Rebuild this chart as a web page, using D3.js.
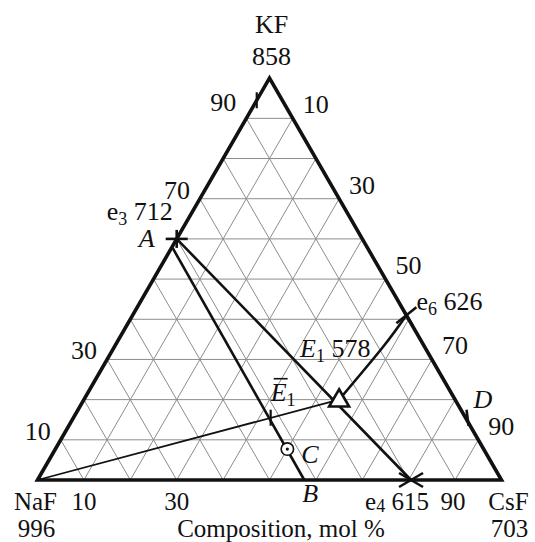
<!DOCTYPE html>
<html><head><meta charset="utf-8">
<script src="https://cdn.jsdelivr.net/npm/d3@7"></script>
<style>
html,body{margin:0;padding:0;background:#fff;}
text{font-family:"Liberation Serif","Times New Roman",serif;font-size:26px;fill:#111;}
.it{font-style:italic;}
.bt{font-size:25px;}
</style></head>
<body>
<svg id="chart" width="535" height="542"></svg>
<script>
// ---- data ----
const gridLevels = [0.1,0.2,0.3,0.4,0.5,0.6,0.7,0.8,0.9];
const leftLabels = [10,30,70,90];          // KF, % on NaF–KF side
const rightLabels = [10,30,50,70,90];      // CsF, % on KF–CsF side
const bottomLabels = [10,30,90];           // CsF, % on NaF–CsF side
const vertexNames = ["NaF","KF","CsF"];
const vertexTemps = [996,858,703];
// special points: mole fractions of KF and CsF
const pointNames = ["A","A2","e6","e4","B","E1","C","E1bar","D","mid","t90"];
const pointKF  = [0.60,0.58,0.41,0.0, 0.0,  0.20,0.077,0.155,0.155,0.331,0.945];
const pointCsF = [0.0, 0.0, 0.59,0.805,0.575,0.55,0.50, 0.425,0.845,0.579,0.0];
const e3Temp = 712, e6Temp = 626, e4Temp = 615, E1Temp = 578;

// ---- geometry ----
const svg = d3.select("#chart");
const L = 37.5, R = 501.5, BASE = 480;
const side = R - L, h = side*Math.sqrt(3)/2;
const xs = d3.scaleLinear().domain([0,1]).range([L,R]);
const ys = d3.scaleLinear().domain([0,1]).range([BASE, BASE-h]);
const P = (kf, csf) => [xs(csf + kf/2), ys(kf)];
const pt = {};
pointNames.forEach((n,i)=>{ pt[n] = P(pointKF[i], pointCsF[i]); });

const line = d3.line();

// grid
const g = svg.append("g");
gridLevels.forEach(v=>{
  g.append("path").attr("d", line([P(v,0), P(v,1-v)]));      // constant KF
  g.append("path").attr("d", line([P(0,v), P(1-v,v)]));      // constant CsF
  g.append("path").attr("d", line([P(0,1-v), P(1-v,0)]));    // constant NaF
});
g.selectAll("path").attr("stroke","#8c8c8c").attr("stroke-width",1).attr("fill","none");

// composition lines
const lines = svg.append("g").attr("fill","none").attr("stroke","#111");
lines.append("path").attr("d", line([P(0,0), pt.E1])).attr("stroke-width",1.8);
lines.append("path").attr("d", line([pt.A, pt.e4])).attr("stroke-width",2.6);
lines.append("path").attr("d", line([pt.A2, pt.B])).attr("stroke-width",2.6);
lines.append("path").attr("d", d3.line().curve(d3.curveNatural)([pt.e6, pt.mid, pt.E1])).attr("stroke-width",2.6);

// triangle outline
svg.append("path").attr("d", line([P(0,0), P(1,0), P(0,1)]) + "Z")
  .attr("fill","none").attr("stroke","#111").attr("stroke-width",3.6).attr("stroke-linejoin","miter");

// markers
const mk = svg.append("g").attr("stroke","#111").attr("fill","none");
function seg(c, dx1, dy1, dx2, dy2, w){
  mk.append("path").attr("d", line([[c[0]+dx1,c[1]+dy1],[c[0]+dx2,c[1]+dy2]])).attr("stroke-width", w);
}
seg(pt.A,-11,0,11,0,2.6); seg(pt.A,0,-9,0,9,2.6);
seg(pt.e6,-10,8,10,-8,2.6); seg(pt.e6,-6,-10,6,10,2.6);
seg(pt.e4,-12,-7,12,7,2.6); seg(pt.e4,-12,7,12,-7,2.6);
seg(pt.E1bar,0,-8,0,8,2.2);
seg(pt.D,1,-8,3,8,2.6);
seg(pt.t90,0,-8,0,8,2.2);
mk.append("circle").attr("cx",pt.C[0]).attr("cy",pt.C[1]).attr("r",6.2).attr("fill","#fff").attr("stroke-width",1.6);
mk.append("circle").attr("cx",pt.C[0]).attr("cy",pt.C[1]).attr("r",1.6).attr("fill","#111").attr("stroke","none");
const ts = 20, th = ts*Math.sqrt(3)/2;
mk.append("path").attr("d", line([
  [pt.E1[0], pt.E1[1]-th*0.6],[pt.E1[0]+ts/2, pt.E1[1]+th*0.4],[pt.E1[0]-ts/2, pt.E1[1]+th*0.4]])+"Z")
  .attr("fill","#fff").attr("stroke-width",2.6).attr("stroke-linejoin","miter");

// ---- labels ----
const T = svg.append("g");
function txt(x, y, s, anchor, cls){
  return T.append("text").attr("x",x).attr("y",y).attr("text-anchor",anchor||"middle").attr("class",cls||null).text(s);
}
const vpos = [P(0,0), P(1,0), P(0,1)];
const row1 = 510, row2 = 537;
txt(vpos[1][0]+2, 33, vertexNames[1]);
txt(vpos[1][0]+2, 65, vertexTemps[1]);
txt(vpos[0][0]-2, row1, vertexNames[0], "middle", "bt");
txt(vpos[0][0]-1, row2, vertexTemps[0], "middle", "bt");
txt(vpos[2][0]+7, row1, vertexNames[2], "middle", "bt");
txt(vpos[2][0]+8, row2, vertexTemps[2], "middle", "bt");
leftLabels.forEach(v=>{ const p=P(v/100,0); txt(p[0]-10, p[1]+(v===90?-7:0), v, "end"); });
rightLabels.forEach(v=>{ const p=P(1-v/100,v/100); txt(p[0]+10, p[1]-5, v, "start"); });
bottomLabels.forEach(v=>{ const p=P(0,v/100); txt(p[0]+(v===90?-2:0), row1, v, "middle", "bt"); });
txt(281, row2, "Composition, mol %", "middle", "bt");

function sub(x,y,main,subs,rest,cls,anchor,extra,sdy){
  const d = sdy || 5;
  const t = T.append("text").attr("x",x).attr("y",y).attr("text-anchor",anchor||"start").attr("class",extra||null);
  t.append("tspan").attr("class",cls||null).text(main);
  t.append("tspan").attr("dy",d).attr("font-size","18px").text(subs);
  if(rest!==null) t.append("tspan").attr("dy",-d).text(rest);
  return t;
}
sub(pt.A[0]-70, pt.A[1]-19, "e", "3", "\u00a0" + e3Temp);
txt(pt.A[0]-22, pt.A[1]+8, "A", "end", "it");
sub(pt.e6[0]+10, pt.e6[1]-5, "e", "6", "\u00a0" + e6Temp);
sub(pt.E1[0]-39, pt.E1[1]-43, "E", "1", "\u00a0" + E1Temp, "it");
sub(pt.E1bar[0], pt.E1bar[1]-17, "E", "1", null, "it");
T.append("path").attr("d", line([[pt.E1bar[0]+3, pt.E1bar[1]-39],[pt.E1bar[0]+17, pt.E1bar[1]-39]]))
  .attr("stroke","#111").attr("stroke-width",1.6);
sub(pt.e4[0]-46, row1, "e", "4", "\u00a0" + e4Temp, null, "start", "bt", 2);
txt(pt.D[0]+8, pt.D[1]-10, "D", "start", "it");
txt(pt.C[0]+14, pt.C[1]+14, "C", "start", "it");
txt(pt.B[0]+6, 502, "B", "middle", "it");
</script>
</body></html>
